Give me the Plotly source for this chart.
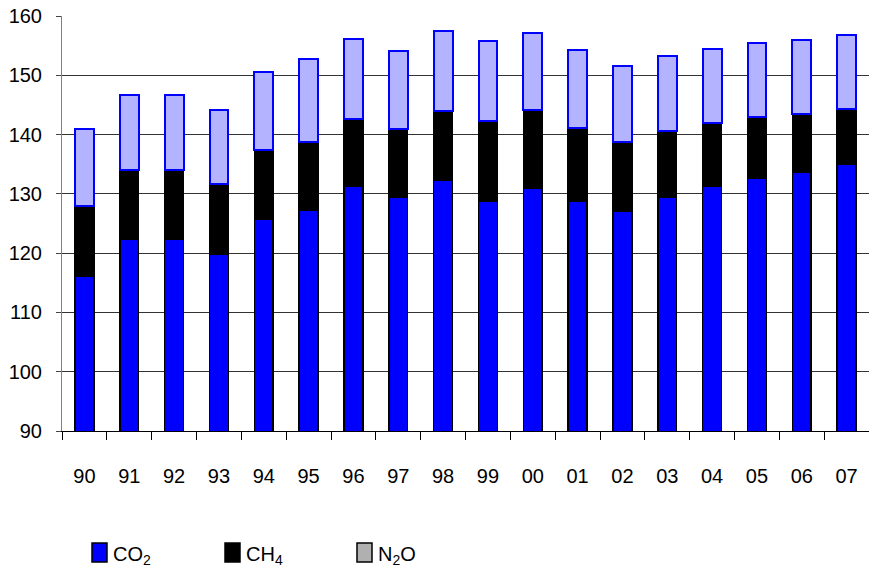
import plotly.graph_objects as go

# Emissions by gas, stacked per year
years = ["90", "91", "92", "93", "94", "95", "96", "97", "98",
         "99", "00", "01", "02", "03", "04", "05", "06", "07"]
co2 = [116.1, 122.3, 122.3, 119.8, 125.7, 127.3, 131.3, 129.4, 132.3,
       128.8, 131.0, 128.8, 127.0, 129.4, 131.2, 132.7, 133.7, 135.0]
ch4 = [11.8, 11.7, 11.8, 11.8, 11.7, 11.5, 11.4, 11.5, 11.7,
       13.5, 13.1, 12.3, 11.7, 11.2, 10.7, 10.3, 9.7, 9.3]
n2o = [13.0, 12.7, 12.5, 12.5, 13.2, 13.9, 13.4, 13.2, 13.4,
       13.5, 13.1, 13.1, 12.8, 12.7, 12.6, 12.5, 12.6, 12.5]

y_ticks = [90, 100, 110, 120, 130, 140, 150, 160]

W, H = 869, 569
ML, MR, MT, MB = 62, 0, 16, 138
FONT = "Arial, Liberation Sans, sans-serif"

fig = go.Figure()
fig.add_bar(x=years, y=co2, name="CO2", showlegend=False,
            marker=dict(color="#0000FF", line=dict(color="#000000", width=1.5)))
fig.add_bar(x=years, y=ch4, name="CH4", showlegend=False,
            marker=dict(color="#000000", line=dict(color="#000000", width=1.5)))
fig.add_bar(x=years, y=n2o, name="N2O", showlegend=False,
            marker=dict(color="#B3B3FF", line=dict(color="#0000FF", width=2)))

fig.update_layout(
    width=W, height=H,
    margin=dict(l=ML, r=MR, t=MT, b=MB, pad=0),
    barmode="stack", bargap=0.58,
    plot_bgcolor="white", paper_bgcolor="white",
    font=dict(family=FONT, size=20, color="black"),
    showlegend=False,
)
fig.update_xaxes(
    type="category", tickson="boundaries", ticks="outside", ticklen=8,
    tickcolor="black", tickwidth=1, showgrid=False,
    showline=True, linecolor="black", linewidth=1,
    ticklabelstandoff=27, tickfont=dict(size=20),
)
fig.update_yaxes(
    range=[90, 160], tickvals=y_ticks, ticks="outside", ticklen=5,
    tickcolor="#444", showgrid=True, gridcolor="#333", gridwidth=1,
    showline=True, linecolor="#808080", linewidth=1,
    ticklabelstandoff=10, tickfont=dict(size=20), zeroline=False,
)

# Legend drawn as swatches with subscripted labels below the plot
plot_w = W - ML - MR
plot_h = H - MT - MB


def px_x(px):
    return (px - ML) / plot_w


def px_y(py):
    return (H - MB - py) / plot_h


legend_items = [
    (92, "#0000FF", "CO<sub>2</sub>"),
    (225, "#000000", "CH<sub>4</sub>"),
    (357, "#B0B0B0", "N<sub>2</sub>O"),
]
for left, color, label in legend_items:
    fig.add_shape(type="rect", xref="paper", yref="paper",
                  x0=px_x(left), x1=px_x(left + 15),
                  y0=px_y(562), y1=px_y(543),
                  fillcolor=color, line=dict(color="black", width=1.5))
    fig.add_annotation(xref="paper", yref="paper", x=px_x(left + 19),
                       y=px_y(555), text=label, showarrow=False,
                       xanchor="left", yanchor="middle",
                       font=dict(size=20, family=FONT, color="black"))

fig.write_html("out.html")
